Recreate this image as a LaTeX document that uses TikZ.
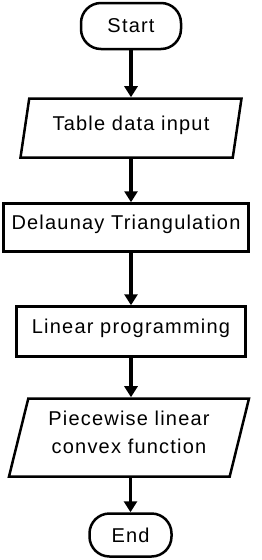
\documentclass[tikz,border=0pt]{standalone}
\usepackage{fontspec}
\setmainfont{Liberation Sans}[LetterSpace=6]
\usetikzlibrary{arrows.meta,shapes.geometric}

\begin{document}
\begin{tikzpicture}[
    x=1pt, y=-1pt,
    every node/.style={font=\fontsize{20}{28}\selectfont},
    term/.style={rectangle, draw, line width=2.5pt, rounded corners=20pt,
                 minimum width=100pt, minimum height=46pt, inner sep=0pt},
    io/.style={trapezium, trapezium left angle=70, trapezium right angle=110,
               trapezium stretches body, draw, line width=2.5pt, inner sep=0pt,
               text height=14pt, text depth=10pt},
    proc/.style={rectangle, draw, line width=2.5pt, inner sep=0pt,
                 text height=14pt, text depth=10pt},
    e/.style={-{Triangle[length=11pt,width=13pt]}, line width=3.5pt},
  ]
  \useasboundingbox (0,0) rectangle (262,560);
  \node[term] (start) at (131,26) {Start};
  \node[io, minimum width=221pt, minimum height=59pt] (input) at (131,128) {Table data input};
  \node[proc, minimum width=245pt, minimum height=48pt] (tri) at (126,227.5) {Delaunay Triangulation};
  \node[proc, minimum width=229pt, minimum height=50pt] (lp) at (131,331.5) {Linear programming};
  \node[io, minimum width=240pt, minimum height=78pt, align=center,
        text height=42pt, text depth=11pt] (pwl) at (129,437.5) {Piecewise linear\\convex function};
  \node[term, minimum width=82pt, minimum height=43pt] (stop) at (130.5,535) {End};
  \draw[e] (start) -- (input);
  \draw[e] (input.south) -- (input.south |- tri.north);
  \draw[e] (tri.south -| lp.north) -- (lp);
  \draw[e] (lp.south) -- (lp.south |- pwl.north);
  \draw[e] (pwl.south -| stop.north) -- (stop);
\end{tikzpicture}
\end{document}
